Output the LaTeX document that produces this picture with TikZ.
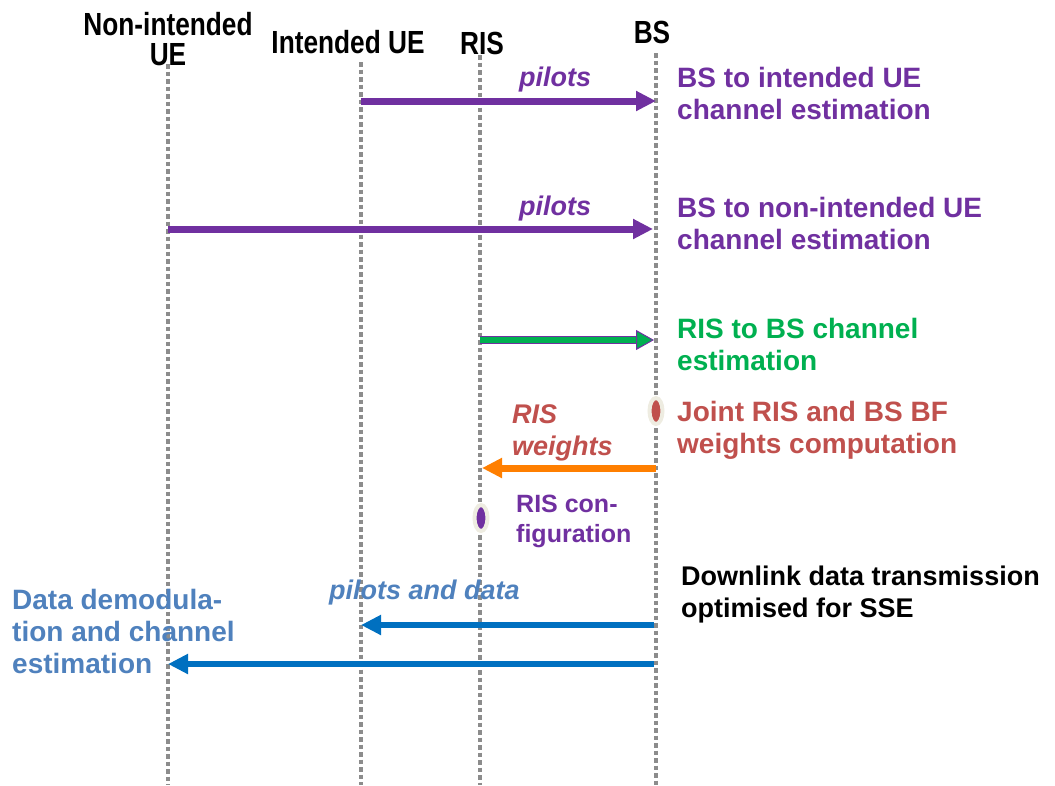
\documentclass[tikz,border=0pt]{standalone}
\usepackage{fontspec}
\setmainfont{Liberation Sans}
\newfontfamily\hdrfont[FakeStretch=0.82]{Liberation Sans}
\usetikzlibrary{arrows.meta,shapes.geometric}
\definecolor{cpurple}{HTML}{7030A0}
\definecolor{cgreen}{HTML}{00B050}
\definecolor{cred}{HTML}{C0504D}
\definecolor{corange}{HTML}{FF7F00}
\definecolor{cblue}{HTML}{0070C0}
\definecolor{ctxtblue}{HTML}{4F81BD}
\definecolor{cgray}{HTML}{8C8C8C}
\definecolor{cbeige}{HTML}{EEECE1}
\tikzset{
  lifeline/.style={draw=cgray,line width=4.5pt,dash pattern=on 4.5pt off 3pt},
  hdr/.style={font=\hdrfont\bfseries\fontsize{32}{30}\selectfont,align=center,inner sep=0pt,anchor=north},
  note/.style={font=\bfseries\fontsize{28}{32}\selectfont,align=left,inner sep=0pt,anchor=north west},
  smallnote/.style={font=\bfseries\fontsize{25}{30}\selectfont,align=left,inner sep=0pt,anchor=north west},
  lbl/.style={font=\bfseries\itshape\fontsize{27}{32}\selectfont,align=left,inner sep=0pt,anchor=north west},
  msg/.style={line width=7pt,-{Triangle[length=20pt,width=19pt]}},
  evt/.style={ellipse,minimum width=13pt,minimum height=26pt,inner sep=0pt,draw=cbeige,line width=4pt},
}
\begin{document}
\begin{tikzpicture}[x=1pt,y=-1pt]
\useasboundingbox (0,0) rectangle (1055,785);
% headers
\node[hdr] (hni) at (168,12) {Non-intended\\UE};
\node[hdr] (hiue) at (348,30) {Intended UE};
\node[hdr] (hris) at (482,32) {RIS};
\node[hdr] (hbs) at (652,21) {BS};
% lifelines
\coordinate (ni0) at (168,64); \coordinate (ni1) at (168,785);
\coordinate (iu0) at (361,62); \coordinate (iu1) at (361,785);
\coordinate (ri0) at (480,55); \coordinate (ri1) at (480,785);
\coordinate (bs0) at (656,53); \coordinate (bs1) at (656,785);
\draw[lifeline] (ni0) -- (ni1);
\draw[lifeline] (iu0) -- (iu1);
\draw[lifeline] (ri0) -- (ri1);
\draw[lifeline] (bs0) -- (bs1);
% message end points
\coordinate (m1s) at (361,101); \coordinate (m1e) at (656,101);
\coordinate (m2s) at (168,229); \coordinate (m2e) at (653,229);
\coordinate (m3s) at (480,340); \coordinate (m3e) at (654,340);
\coordinate (m4s) at (656,468); \coordinate (m4e) at (482,468);
\coordinate (m5s) at (654,625); \coordinate (m5e) at (361,625);
\coordinate (m6s) at (654,664); \coordinate (m6e) at (168,664);
% messages
\draw[msg,cpurple] (m1s) -- (m1e);
\draw[msg,cpurple] (m2s) -- (m2e);
\draw[line width=8pt,cpurple,shorten >=16pt] (m3s) -- (m3e);
\draw[line width=6pt,cgreen,-{Triangle[length=18pt,width=20pt,fill=cgreen,color=cpurple,line width=1pt]}] (m3s) -- (m3e);
\draw[msg,corange] (m4s) -- (m4e);
\draw[msg,cblue,line width=6.5pt] (m5s) -- (m5e);
\draw[msg,cblue,line width=6.5pt] (m6s) -- (m6e);
% events
\node[evt,fill=cred] (e1) at (656,411) {};
\node[evt,fill=cpurple] (e2) at (481,518) {};
% labels
\node[lbl,text=cpurple] (l1) at (519,67) {pilots};
\node[lbl,text=cpurple] (l2) at (519,196) {pilots};
\node[lbl,text=cred] (l3) at (512,404) {RIS\\weights};
\node[lbl,text=ctxtblue] (l4) at (329,580) {pilots and data};
% notes
\node[note,text=cpurple] (n1) at (677,67) {BS to intended UE\\channel estimation};
\node[note,text=cpurple] (n2) at (677,197) {BS to non-intended UE\\channel estimation};
\node[note,text=cgreen] (n3) at (677,318) {RIS to BS channel\\estimation};
\node[note,text=cred] (n4) at (677,401) {Joint RIS and BS BF\\weights computation};
\node[smallnote,text=cpurple] (n5) at (516,495) {RIS con-\\figuration};
\node[note,font=\bfseries\fontsize{27}{32}\selectfont,text=black] (n6) at (681,566) {Downlink data transmission\\optimised for SSE};
\node[note,text=ctxtblue] (n7) at (12,589) {Data demodula-\\tion and channel\\estimation};
\end{tikzpicture}
\end{document}
